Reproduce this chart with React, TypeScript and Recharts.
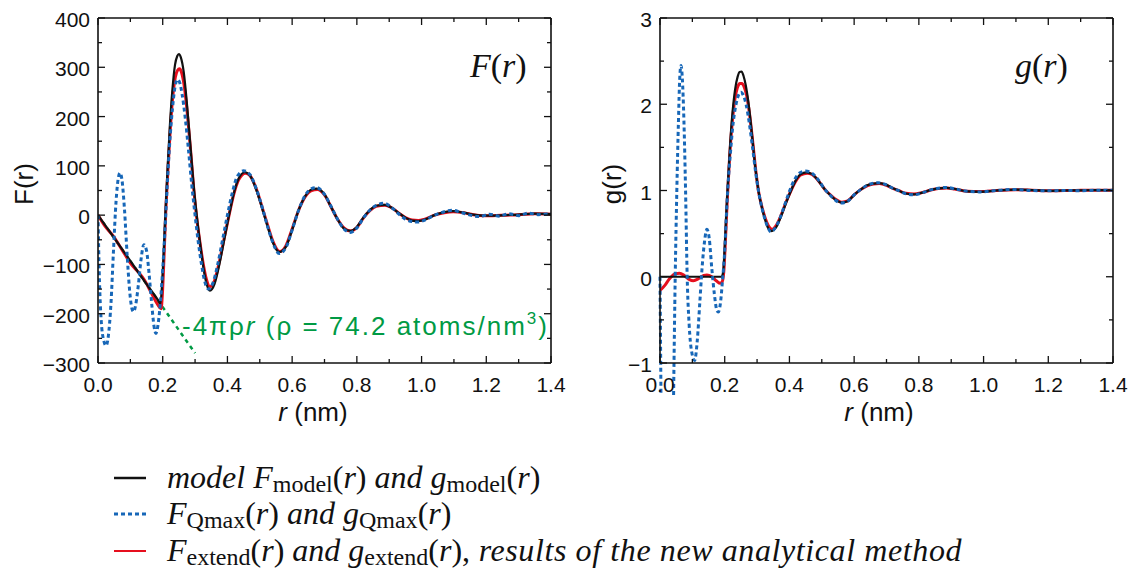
import React from 'react';
import { LineChart, Line, XAxis, YAxis } from 'recharts';

// r in nm, F(r) in atoms/nm^2 (left panel)
const fModel: [number, number][] = [
  [0, 0], [0.05, -46], [0.1, -93], [0.15, -140], [0.185, -172], [0.193, -180], [0.198, -140], [0.203, -75],
  [0.208, 0], [0.215, 95], [0.222, 180], [0.23, 255], [0.238, 305], [0.245, 323], [0.25, 327], [0.256, 320],
  [0.265, 290], [0.275, 225], [0.285, 145], [0.295, 65], [0.305, 0], [0.315, -55], [0.325, -103], [0.335, -138],
  [0.346, -153], [0.36, -140], [0.375, -100], [0.39, -50], [0.405, 0], [0.42, 45], [0.435, 75], [0.454, 87],
  [0.47, 80], [0.49, 50], [0.51, 8], [0.525, -25], [0.54, -55], [0.56, -75], [0.58, -65], [0.6, -30],
  [0.62, 10], [0.64, 38], [0.66, 52], [0.676, 54], [0.7, 42], [0.72, 17], [0.74, -8], [0.76, -27],
  [0.779, -32], [0.8, -24], [0.82, -5], [0.84, 10], [0.86, 19], [0.887, 21], [0.91, 14], [0.93, 4],
  [0.95, -5], [0.97, -11], [0.99, -12], [1.01, -9], [1.04, 0], [1.07, 6], [1.098, 8], [1.13, 5],
  [1.16, 1], [1.19, -1], [1.22, -1], [1.26, 0], [1.3, 1], [1.35, 3], [1.4, 2],
];

const fQmax: [number, number][] = [
  [0, 0], [0.004, -120], [0.01, -215], [0.018, -255], [0.025, -265], [0.032, -245], [0.04, -180], [0.048, -70],
  [0.056, 30], [0.062, 72], [0.068, 86], [0.074, 72], [0.082, 10], [0.09, -80], [0.098, -155], [0.105, -190],
  [0.11, -196], [0.117, -180], [0.125, -140], [0.133, -90], [0.142, -60], [0.15, -72], [0.158, -120], [0.166, -180],
  [0.173, -225], [0.179, -240], [0.186, -220], [0.193, -175], [0.2, -110], [0.207, -30], [0.214, 60], [0.222, 150],
  [0.23, 215], [0.238, 260], [0.245, 275], [0.252, 270], [0.26, 245], [0.27, 195], [0.28, 130], [0.29, 60],
  [0.3, 0], [0.31, -55], [0.32, -100], [0.33, -135], [0.342, -150], [0.355, -138], [0.37, -100], [0.385, -50],
  [0.4, 0], [0.415, 45], [0.43, 78], [0.45, 90], [0.47, 82], [0.49, 52], [0.51, 10], [0.525, -25],
  [0.54, -55], [0.56, -78], [0.58, -67], [0.6, -30], [0.62, 10], [0.64, 40], [0.66, 54], [0.675, 56],
  [0.7, 42], [0.72, 18], [0.74, -8], [0.76, -28], [0.78, -35], [0.8, -26], [0.82, -6], [0.84, 10],
  [0.86, 20], [0.885, 24], [0.91, 14], [0.93, 2], [0.95, -8], [0.97, -13], [0.99, -14], [1.01, -10],
  [1.04, 0], [1.07, 7], [1.095, 10], [1.12, 6], [1.15, 0], [1.18, -3], [1.21, 2], [1.24, -2],
  [1.27, 3], [1.3, -1], [1.33, 4], [1.36, 1], [1.4, 3],
];

const fExtend: [number, number][] = [
  [0, 0], [0.02, -21], [0.05, -45], [0.075, -71], [0.103, -100], [0.125, -116], [0.144, -132], [0.165, -158],
  [0.185, -182], [0.195, -190], [0.199, -160], [0.204, -85], [0.209, 0], [0.216, 90], [0.223, 170], [0.231, 240],
  [0.239, 280], [0.246, 294], [0.252, 297], [0.258, 290], [0.267, 260], [0.277, 200], [0.287, 125], [0.297, 45],
  [0.305, -5], [0.315, -55], [0.325, -98], [0.335, -130], [0.346, -145], [0.36, -133], [0.375, -95], [0.39, -47],
  [0.405, 0], [0.42, 43], [0.435, 72], [0.456, 85], [0.47, 80], [0.49, 52], [0.51, 10], [0.525, -22],
  [0.54, -52], [0.562, -74], [0.58, -63], [0.6, -28], [0.62, 10], [0.64, 37], [0.66, 50], [0.678, 52],
  [0.7, 41], [0.72, 17], [0.74, -8], [0.76, -26], [0.78, -32], [0.8, -25], [0.82, -6], [0.84, 9],
  [0.86, 18], [0.887, 20], [0.91, 14], [0.93, 4], [0.95, -5], [0.97, -10], [0.99, -11], [1.01, -8],
  [1.04, 0], [1.07, 5], [1.098, 7], [1.13, 5], [1.16, 1], [1.19, -1], [1.22, -1], [1.26, 0],
  [1.3, 1], [1.35, 3], [1.4, 2],
];

// -4πρr with ρ = 74.2 atoms/nm3
const densityLine: [number, number][] = [[0, 0], [0.3, -280]];

// g(r) (right panel)
const gModel: [number, number][] = [
  [0, 0], [0.19, 0], [0.195, 0.05], [0.2, 0.35], [0.205, 0.75], [0.21, 1.1], [0.217, 1.55], [0.224, 1.9],
  [0.232, 2.17], [0.24, 2.32], [0.246, 2.375], [0.252, 2.38], [0.258, 2.33], [0.265, 2.22], [0.275, 1.97], [0.285, 1.62],
  [0.295, 1.25], [0.305, 0.98], [0.315, 0.8], [0.325, 0.66], [0.335, 0.56], [0.345, 0.53], [0.36, 0.58], [0.375, 0.71],
  [0.39, 0.86], [0.405, 1.0], [0.42, 1.12], [0.435, 1.19], [0.452, 1.21], [0.47, 1.19], [0.49, 1.11], [0.51, 1.01],
  [0.525, 0.95], [0.54, 0.9], [0.562, 0.86], [0.58, 0.875], [0.6, 0.95], [0.62, 1.01], [0.64, 1.06], [0.66, 1.08],
  [0.678, 1.085], [0.7, 1.065], [0.72, 1.025], [0.74, 0.995], [0.76, 0.965], [0.785, 0.955], [0.81, 0.975], [0.84, 1.01],
  [0.86, 1.025], [0.886, 1.03], [0.91, 1.02], [0.95, 0.99], [0.99, 0.985], [1.04, 1.0], [1.1, 1.01], [1.15, 1.005],
  [1.2, 0.995], [1.25, 1.0], [1.3, 1.002], [1.35, 1.004], [1.4, 1.003],
];

// drops out through the bottom of the frame near r = 0 (null = gap)
const gQmax: [number, number | null][] = [
  [0, 0], [0.003, -1.37], [0.02, null], [0.042, -1.37], [0.047, 0], [0.052, 1.0], [0.057, 1.8], [0.061, 2.3],
  [0.065, 2.45], [0.069, 2.3], [0.074, 1.8], [0.079, 1.0], [0.084, 0], [0.09, -0.55], [0.097, -0.85], [0.107, -0.97],
  [0.115, -0.75], [0.123, -0.3], [0.13, 0.1], [0.138, 0.42], [0.145, 0.55], [0.152, 0.45], [0.16, 0.1], [0.168, -0.2],
  [0.175, -0.38], [0.18, -0.41], [0.187, -0.3], [0.193, -0.05], [0.2, 0.3], [0.205, 0.7], [0.21, 1.05], [0.218, 1.45],
  [0.226, 1.78], [0.234, 1.98], [0.242, 2.1], [0.25, 2.14], [0.258, 2.1], [0.266, 2.0], [0.276, 1.78], [0.286, 1.5],
  [0.296, 1.2], [0.305, 0.98], [0.315, 0.8], [0.325, 0.66], [0.335, 0.56], [0.342, 0.52], [0.355, 0.56], [0.37, 0.67],
  [0.385, 0.83], [0.4, 0.99], [0.415, 1.12], [0.43, 1.2], [0.45, 1.225], [0.47, 1.2], [0.49, 1.12], [0.51, 1.01],
  [0.525, 0.95], [0.54, 0.895], [0.56, 0.855], [0.58, 0.875], [0.6, 0.95], [0.62, 1.01], [0.64, 1.06], [0.66, 1.085],
  [0.675, 1.09], [0.7, 1.065], [0.72, 1.025], [0.74, 0.995], [0.76, 0.962], [0.785, 0.95], [0.81, 0.973], [0.84, 1.01],
  [0.86, 1.027], [0.886, 1.035], [0.91, 1.02], [0.95, 0.99], [0.99, 0.984], [1.04, 1.0], [1.095, 1.012], [1.15, 1.0],
  [1.2, 0.996], [1.25, 1.0], [1.3, 0.998], [1.35, 1.004], [1.4, 1.003],
];

const gExtend: [number, number][] = [
  [0, -0.16], [0.015, -0.1], [0.03, -0.02], [0.048, 0.035], [0.06, 0.04], [0.075, 0.015], [0.09, -0.03], [0.103, -0.046],
  [0.12, -0.02], [0.135, 0.015], [0.145, 0.02], [0.16, 0.0], [0.175, -0.05], [0.186, -0.076], [0.192, -0.06], [0.197, 0.05],
  [0.202, 0.4], [0.208, 0.9], [0.215, 1.38], [0.223, 1.78], [0.231, 2.05], [0.239, 2.19], [0.247, 2.24], [0.253, 2.24],
  [0.26, 2.2], [0.268, 2.1], [0.277, 1.88], [0.287, 1.55], [0.297, 1.2], [0.305, 0.98], [0.315, 0.81], [0.325, 0.68],
  [0.335, 0.59], [0.346, 0.55], [0.36, 0.6], [0.375, 0.72], [0.39, 0.87], [0.405, 1.0], [0.42, 1.11], [0.435, 1.18],
  [0.455, 1.2], [0.47, 1.185], [0.49, 1.11], [0.51, 1.01], [0.525, 0.955], [0.54, 0.905], [0.562, 0.865], [0.58, 0.88],
  [0.6, 0.95], [0.62, 1.01], [0.64, 1.055], [0.66, 1.075], [0.678, 1.08], [0.7, 1.06], [0.72, 1.025], [0.74, 0.995],
  [0.76, 0.967], [0.785, 0.958], [0.81, 0.975], [0.84, 1.008], [0.86, 1.022], [0.886, 1.028], [0.91, 1.018], [0.95, 0.99],
  [0.99, 0.987], [1.04, 1.0], [1.1, 1.008], [1.15, 1.004], [1.2, 0.996], [1.25, 1.0], [1.3, 1.002], [1.35, 1.004],
  [1.4, 1.003],
];

const rMajorTicks = [0, 0.2, 0.4, 0.6, 0.8, 1.0, 1.2, 1.4];
const rMinorTicks = [0.1, 0.3, 0.5, 0.7, 0.9, 1.1, 1.3];
const fMajorTicks = [-300, -200, -100, 0, 100, 200, 300, 400];
const fMinorTicks = [-250, -150, -50, 50, 150, 250, 350];
const gMajorTicks = [-1, 0, 1, 2, 3];
const gMinorTicks = [-0.5, 0.5, 1.5, 2.5];

const BLACK = '#111111';
const BLUE = '#1767b8';
const RED = '#e60f1e';
const GREEN = '#009a44';
const SANS = '"Liberation Sans", Arial, Helvetica, sans-serif';
const SERIF = '"Liberation Serif", "Times New Roman", serif';

const toRows = (pts: [number, number | null][]) => pts.map(([r, v]) => ({ r, v }));
const minus = (s: string) => s.replace('-', '\u2212');
const fmtR = (v: number) => v.toFixed(1);
const fmtInt = (v: number) => minus(String(v));

const isIn = (arr: number[], v: number) => arr.some((m) => Math.abs(m - v) < 1e-6);

// ticks point inwards; labels only on the bottom / left axes
function makeTick(side: 'bottom' | 'top' | 'left' | 'right', majors: number[], fmt?: (v: number) => string) {
  return (props: any) => {
    const { x, y, payload } = props;
    const v = payload.value as number;
    const major = isIn(majors, v);
    const len = major ? 7 : 4;
    let x2 = x;
    let y2 = y;
    if (side === 'bottom') y2 = y - len;
    if (side === 'top') y2 = y + len;
    if (side === 'left') x2 = x + len;
    if (side === 'right') x2 = x - len;
    return (
      <g>
        <line x1={x} y1={y} x2={x2} y2={y2} stroke={BLACK} strokeWidth={1.3} />
        {major && fmt && side === 'bottom' && (
          <text x={x} y={y + 29} textAnchor="middle" fontFamily={SANS} fontSize={21} fill={BLACK}>
            {fmt(v)}
          </text>
        )}
        {major && fmt && side === 'left' && (
          <text x={x - 8} y={y + 9} textAnchor="end" fontFamily={SANS} fontSize={21} fill={BLACK}>
            {fmt(v)}
          </text>
        )}
      </g>
    );
  };
}

const axisLine = { stroke: BLACK, strokeWidth: 1.6 };
const rTicks = [...rMajorTicks, ...rMinorTicks].sort((a, b) => a - b);

function Frame({ yDomain, yTicks, yMajors, children }: any) {
  // axes are 1px thick, so plot area = x 98..551, y 18..363 inside a 575x440 surface
  return (
    <LineChart width={575} height={440} margin={{ top: 17, right: 23, bottom: 76, left: 97 }}>
      <XAxis xAxisId="b" type="number" dataKey="r" domain={[0, 1.4]} allowDataOverflow ticks={rTicks} interval={0}
        height={1} tickSize={0} tickMargin={0} tickLine={false} axisLine={axisLine}
        tick={makeTick('bottom', rMajorTicks, fmtR)} />
      <XAxis xAxisId="t" orientation="top" type="number" dataKey="r" domain={[0, 1.4]} allowDataOverflow ticks={rTicks}
        interval={0} height={1} tickSize={0} tickMargin={0} tickLine={false} axisLine={axisLine}
        tick={makeTick('top', rMajorTicks)} />
      <YAxis yAxisId="l" type="number" domain={yDomain} allowDataOverflow ticks={yTicks} interval={0}
        width={1} tickSize={0} tickMargin={0} tickLine={false} axisLine={axisLine}
        tick={makeTick('left', yMajors, fmtInt)} />
      <YAxis yAxisId="r" orientation="right" type="number" domain={yDomain} allowDataOverflow ticks={yTicks} interval={0}
        width={1} tickSize={0} tickMargin={0} tickLine={false} axisLine={axisLine}
        tick={makeTick('right', yMajors)} />
      {children}
    </LineChart>
  );
}

const lineCommon = { xAxisId: 'b', yAxisId: 'l', dataKey: 'v', dot: false, activeDot: false, isAnimationActive: false };

export default function App() {
  const fTicks = [...fMajorTicks, ...fMinorTicks].sort((a, b) => a - b);
  const gTicks = [...gMajorTicks, ...gMinorTicks].sort((a, b) => a - b);
  return (
    <div style={{ position: 'relative', width: 1137, height: 581, background: '#fff', overflow: 'hidden' }}>
      <style>{'body{margin:0} .noclip [clip-path]{clip-path:none !important}'}</style>
      <div style={{ position: 'absolute', left: 0, top: 0 }}>
        <Frame yDomain={[-300, 400]} yTicks={fTicks} yMajors={fMajorTicks}>
          <Line {...lineCommon} data={toRows(densityLine)} type="linear" stroke={GREEN} strokeWidth={2.5} strokeDasharray="4 4" />
          <Line {...lineCommon} data={toRows(fExtend)} type="monotone" stroke={RED} strokeWidth={3} />
          <Line {...lineCommon} data={toRows(fModel)} type="monotone" stroke={BLACK} strokeWidth={2.2} />
          <Line {...lineCommon} data={toRows(fQmax)} type="monotone" stroke={BLUE} strokeWidth={3} strokeDasharray="4 3" />
        </Frame>
      </div>
      <div style={{ position: 'absolute', left: 562, top: 0 }}>
        <Frame yDomain={[-1, 3]} yTicks={gTicks} yMajors={gMajorTicks}>
          <Line {...lineCommon} data={toRows(gExtend)} type="monotone" stroke={RED} strokeWidth={3} />
          <Line {...lineCommon} data={toRows(gModel)} type="monotone" stroke={BLACK} strokeWidth={2.2} />
          <Line {...lineCommon} className="noclip" data={toRows(gQmax)} type="monotone" stroke={BLUE} strokeWidth={3}
            strokeDasharray="4 3" connectNulls={false} />
        </Frame>
      </div>
      <svg width={1137} height={581} style={{ position: 'absolute', left: 0, top: 0, pointerEvents: 'none' }}>
        {/* axis titles */}
        <text transform="translate(33,184) rotate(-90)" textAnchor="middle" fontFamily={SANS} fontSize={26} fill={BLACK}>F(r)</text>
        <text transform="translate(621,184) rotate(-90)" textAnchor="middle" fontFamily={SANS} fontSize={26} fill={BLACK}>g(r)</text>
        <text x={313} y={421} textAnchor="middle" fontFamily={SANS} fontSize={26} fill={BLACK}>
          <tspan fontStyle="italic">r</tspan> (nm)
        </text>
        <text x={879} y={421} textAnchor="middle" fontFamily={SANS} fontSize={26} fill={BLACK}>
          <tspan fontStyle="italic">r</tspan> (nm)
        </text>
        {/* panel tags */}
        <text x={470} y={77} fontFamily={SERIF} fontSize={34} fill={BLACK}>
          <tspan fontStyle="italic">F</tspan>(<tspan fontStyle="italic">r</tspan>)
        </text>
        <text x={1015} y={77} fontFamily={SERIF} fontSize={34} fill={BLACK}>
          <tspan fontStyle="italic">g</tspan>(<tspan fontStyle="italic">r</tspan>)
        </text>
        {/* density annotation */}
        <text x={182} y={335} fontFamily={SANS} fontSize={26} letterSpacing={2} fill={GREEN}>
          -4πρ<tspan fontStyle="italic">r</tspan> (ρ = 74.2 atoms/nm<tspan dy={-11} fontSize={17}>3</tspan><tspan dy={11}>)</tspan>
        </text>
        {/* legend */}
        <line x1={114} x2={146} y1={478} y2={478} stroke={BLACK} strokeWidth={2.5} />
        <line x1={114} x2={146} y1={514} y2={514} stroke={BLUE} strokeWidth={3} strokeDasharray="4 3" />
        <line x1={114} x2={146} y1={551} y2={551} stroke={RED} strokeWidth={2} />
        <g fontFamily={SERIF} fontSize={32} fill={BLACK}>
          <text x={167} y={488}>
            <tspan fontStyle="italic">model F</tspan><tspan fontSize={24} dy={4}>model</tspan>
            <tspan dy={-4}>(</tspan><tspan fontStyle="italic">r</tspan>)<tspan fontStyle="italic"> and g</tspan>
            <tspan fontSize={24} dy={4}>model</tspan><tspan dy={-4}>(</tspan><tspan fontStyle="italic">r</tspan>)
          </text>
          <text x={167} y={524}>
            <tspan fontStyle="italic">F</tspan><tspan fontSize={24} dy={4}>Qmax</tspan>
            <tspan dy={-4}>(</tspan><tspan fontStyle="italic">r</tspan>)<tspan fontStyle="italic"> and g</tspan>
            <tspan fontSize={24} dy={4}>Qmax</tspan><tspan dy={-4}>(</tspan><tspan fontStyle="italic">r</tspan>)
          </text>
          <text x={167} y={561}>
            <tspan fontStyle="italic">F</tspan><tspan fontSize={24} dy={4}>extend</tspan>
            <tspan dy={-4}>(</tspan><tspan fontStyle="italic">r</tspan>)<tspan fontStyle="italic"> and g</tspan>
            <tspan fontSize={24} dy={4}>extend</tspan><tspan dy={-4}>(</tspan><tspan fontStyle="italic">r</tspan>),
            <tspan fontStyle="italic" letterSpacing={0.6}> results of the new analytical method</tspan>
          </text>
        </g>
      </svg>
    </div>
  );
}
